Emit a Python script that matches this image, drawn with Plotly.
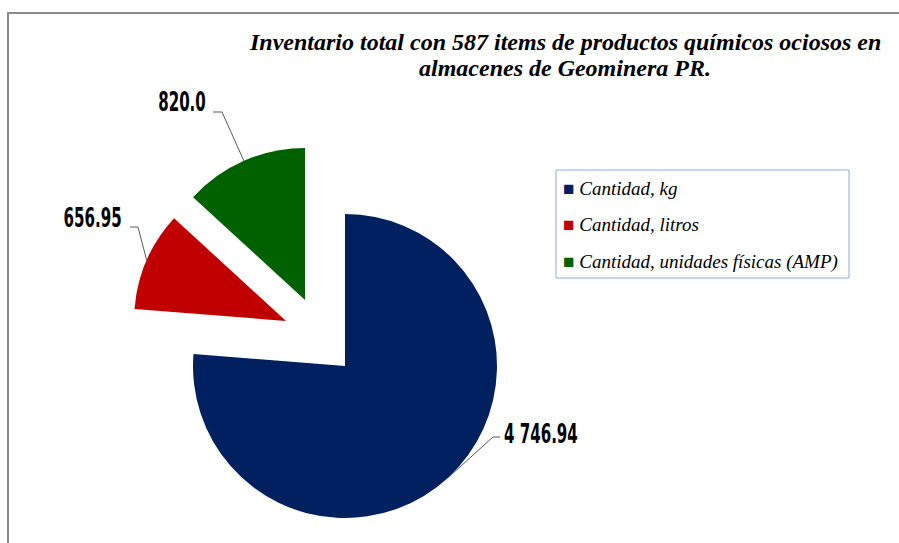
import math
import plotly.graph_objects as go

# ---- data ----
categories = ["Cantidad, kg", "Cantidad, litros", "Cantidad, unidades físicas (AMP)"]
values = [4746.94, 656.95, 820.0]
value_labels = ["4 746.94", "656.95", "820.0"]
colors = ["#002060", "#C00000", "#006100"]

title_lines = ["Inventario total con 587 items de productos químicos ociosos en",
               "almacenes de Geominera PR."]

# ---- layout geometry (pixels) ----
W, H = 899, 543
R = 152
# centre of each (exploded) slice
centers = [(345, 366), (286, 321), (305, 300)]
# elbow and text anchor for leader lines
elbows = [(493, 437), (138, 227), (222, 112)]
elbow_ends = [(500, 437), (130, 227), (213, 112)]
text_pos = [(502, 433, "left"), (124, 217, "right"), (208, 102, "right")]

def px(x):
    return x / W

def py(y):
    return 1 - y / H

fig = go.Figure()
TRANSPARENT = "rgba(0,0,0,0)"

for i, (cx, cy) in enumerate(centers):
    cols = [TRANSPARENT] * len(values)
    cols[i] = colors[i]
    fig.add_trace(go.Pie(
        labels=categories,
        values=values,
        sort=False,
        direction="clockwise",
        rotation=0,
        marker=dict(colors=cols, line=dict(width=0)),
        textinfo="none",
        hoverinfo="label+value",
        showlegend=False,
        domain=dict(x=[px(cx - R), px(cx + R)], y=[py(cy + R), py(cy - R)]),
    ))

# leader lines and value labels, start point computed from slice geometry
total = sum(values)
cum = 0.0
shapes = []
annotations = []
for i, v in enumerate(values):
    frac = v / total
    mid = (cum + frac / 2) * 2 * math.pi
    cum += frac
    cx, cy = centers[i]
    sx = cx + R * math.sin(mid)
    sy = cy - R * math.cos(mid)
    ex, ey = elbows[i]
    fx, fy = elbow_ends[i]
    shapes.append(dict(
        type="path", xref="paper", yref="paper",
        path=f"M {px(sx)} {py(sy)} L {px(ex)} {py(ey)} L {px(fx)} {py(fy)}",
        line=dict(color="#595959", width=1),
    ))
    tx, ty, anchor = text_pos[i]
    annotations.append(dict(
        x=px(tx), y=py(ty), xref="paper", yref="paper",
        text=f"<b>{value_labels[i]}</b>", showarrow=False,
        xanchor=anchor, yanchor="middle",
        font=dict(family="DejaVu Sans Condensed, DejaVu Sans, sans-serif",
                  size=27, color="#000000"),
    ))

# outer chart frame (grey)
shapes.append(dict(type="rect", xref="paper", yref="paper",
                   x0=px(8), x1=px(910), y0=py(560), y1=py(13),
                   line=dict(color="#8C8C8C", width=2), fillcolor="rgba(0,0,0,0)"))

# legend box
shapes.append(dict(type="rect", xref="paper", yref="paper",
                   x0=px(556), x1=px(849), y0=py(278), y1=py(170),
                   line=dict(color="#8EAADB", width=1), fillcolor="rgba(0,0,0,0)"))
legend_y = [188, 225, 262]
for i, name in enumerate(categories):
    annotations.append(dict(
        x=px(561), y=py(legend_y[i]), xref="paper", yref="paper",
        text=f"<span style='color:{colors[i]}'>■</span> <i>{name}</i>",
        showarrow=False, xanchor="left", yanchor="middle",
        font=dict(family="Liberation Serif, DejaVu Serif, serif", size=19, color="#000000"),
    ))

# title (two centred lines)
for j, (line, yy) in enumerate(zip(title_lines, [42, 68])):
    annotations.append(dict(
        x=px(565), y=py(yy), xref="paper", yref="paper",
        text=f"<b><i>{line}</i></b>", showarrow=False,
        xanchor="center", yanchor="middle",
        font=dict(family="Liberation Serif, DejaVu Serif, serif", size=24, color="#000000"),
    ))

fig.update_layout(
    width=W, height=H,
    margin=dict(l=0, r=0, t=0, b=0),
    paper_bgcolor="white",
    plot_bgcolor="white",
    showlegend=False,
    shapes=shapes,
    annotations=annotations,
)

# condense the value-label glyphs horizontally (narrow display face in the original)
post_js = """
var gd = document.getElementById('{plot_id}');
function condenseLabels(){
  var specs = [[0,'left'],[1,'right'],[2,'right']];
  specs.forEach(function(s){
    var t = gd.querySelector('g.annotation[data-index="'+s[0]+'"] text.annotation-text');
    if(t){
      t.style.transformBox = 'fill-box';
      t.style.transformOrigin = s[1] + ' center';
      t.style.transform = 'scaleX(0.62)';
    }
  });
}
condenseLabels();
if (gd.on) { gd.on('plotly_afterplot', condenseLabels); }
"""

fig.write_html("out.html", post_script=post_js)
